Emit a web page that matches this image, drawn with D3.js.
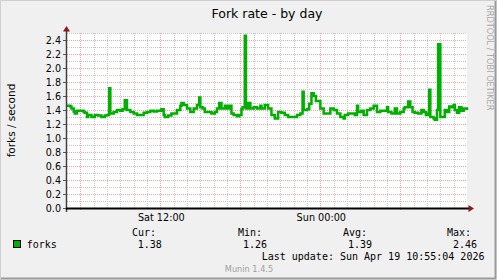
<!DOCTYPE html>
<html><head><meta charset="utf-8">
<script src="https://cdn.jsdelivr.net/npm/d3@7"></script>
<style>body{margin:0;background:#f0f0f0}svg{display:block}</style>
</head><body><svg id="c" width="497" height="280"></svg>
<script>
// ---- data ----
const sampleMinutes = [0,15,20,30,35,45,60,75,80,90,95,110,125,140,155,170,180,190,195,210,225,240,250,260,270,285,300,315,330,345,360,375,390,405,420,425,435,440,455,470,485,495,510,515,525,540,555,570,585,595,600,610,620,635,650,665,675,685,695,710,720,730,740,750,765,775,785,790,800,805,815,825,840,855,870,875,890,905,920,935,950,965,980,995,1010,1025,1035,1050,1060,1065,1080,1090,1100,1110,1120,1130,1140,1155,1170,1185,1200,1215,1230,1245,1250,1265,1280,1295,1305,1310,1325,1335,1350,1365,1380,1395,1410,1425,1440,1445,1460,1475,1485,1500,1515,1520,1535,1545,1555,1565,1580,1595,1605,1615,1625,1630,1635,1650,1655,1665,1670,1680,1690,1700,1710,1720,1730,1740,1745,1755,1765,1775,1785,1800];
const forkRate = [1.46,1.45,1.42,1.38,1.35,1.39,1.39,1.37,1.36,1.30,1.33,1.30,1.33,1.32,1.30,1.32,1.33,1.71,1.35,1.37,1.40,1.39,1.41,1.54,1.40,1.37,1.35,1.33,1.33,1.36,1.37,1.39,1.38,1.39,1.39,1.41,1.33,1.30,1.32,1.35,1.35,1.40,1.46,1.50,1.47,1.42,1.37,1.42,1.47,1.58,1.44,1.42,1.37,1.37,1.35,1.37,1.42,1.50,1.42,1.46,1.42,1.46,1.35,1.33,1.31,1.33,1.41,1.44,2.46,1.42,1.50,1.42,1.44,1.42,1.46,1.42,1.47,1.42,1.33,1.28,1.37,1.36,1.33,1.30,1.30,1.30,1.33,1.35,1.66,1.40,1.41,1.49,1.64,1.60,1.53,1.53,1.42,1.35,1.35,1.42,1.40,1.35,1.30,1.28,1.33,1.35,1.35,1.33,1.46,1.37,1.39,1.33,1.40,1.42,1.46,1.37,1.39,1.39,1.44,1.37,1.35,1.42,1.35,1.37,1.42,1.44,1.52,1.44,1.37,1.36,1.35,1.40,1.37,1.33,1.35,1.69,1.30,1.28,1.26,1.40,2.34,1.30,1.30,1.40,1.37,1.45,1.44,1.47,1.40,1.36,1.44,1.39,1.42,1.40,1.40];
const yTickValues = [0,0.2,0.4,0.6,0.8,1.0,1.2,1.4,1.6,1.8,2.0,2.2,2.4];
const xTickLabels = ["Sat 12:00","Sun 00:00"];
const legendHeaders = ["Cur:","Min:","Avg:","Max:"];
const legendValues = ["1.38","1.26","1.39","2.46"];
const seriesName = "forks";
const titleText = "Fork rate - by day";
const yLabelText = "forks / second";
const lastUpdateText = "Last update: Sun Apr 19 10:55:04 2026";

// ---- layout ----
const svg = d3.select("#c");
const W = 497, H = 280;
const L = 67, R = 467, T = 33, B = 208;
const t0 = new Date(2026,3,18,5,0), t1 = new Date(2026,3,19,11,0);
const x = d3.scaleTime().domain([t0,t1]).range([L,R]);
const y = d3.scaleLinear().domain([0,2.5]).range([B,T]);
const sans = "DejaVu Sans", mono = "DejaVu Sans Mono";

// frame
svg.append("rect").attr("x",0).attr("y",0).attr("width",W).attr("height",H).attr("fill","#f0f0f0");
svg.append("path").attr("d",`M0.5,${H}V0.5H${W}`).attr("stroke","#cfcfcf").attr("fill","none");
svg.append("path").attr("d",`M1,${H-1.5}H${W-1.5}V1`).attr("stroke","#9a9a9a").attr("stroke-width",2).attr("fill","none");

// plot bg
svg.append("rect").attr("x",L).attr("y",T).attr("width",R-L).attr("height",B-T).attr("fill","#ffffff");

const g = svg.append("g").attr("shape-rendering","crispEdges");
// minor grid
const minorY = d3.range(1,26).map(i=>i/10).filter(v=>Math.round(v*10)%2!==0);
g.selectAll(".my").data(minorY).join("line")
  .attr("x1",L).attr("x2",R).attr("y1",d=>Math.round(y(d))+0.5).attr("y2",d=>Math.round(y(d))+0.5)
  .attr("stroke","#c8c8c8").attr("stroke-dasharray","1,1");
const hours = d3.timeHour.every(1).range(t0,t1).filter(d=>d>t0 && d.getHours()%6!==0);
g.selectAll(".mx").data(hours).join("line")
  .attr("y1",T).attr("y2",B).attr("x1",d=>Math.round(x(d))+0.5).attr("x2",d=>Math.round(x(d))+0.5)
  .attr("stroke","#c8c8c8").attr("stroke-dasharray","1,1");
// major grid
g.selectAll(".My").data(yTickValues.filter(v=>v>0)).join("line")
  .attr("x1",L).attr("x2",R).attr("y1",d=>Math.round(y(d))+0.5).attr("y2",d=>Math.round(y(d))+0.5)
  .attr("stroke","#f4a4a4").attr("stroke-dasharray","1,1");
const majors = d3.timeHour.every(6).range(t0,t1).filter(d=>d>t0);
g.selectAll(".Mx").data(majors).join("line")
  .attr("y1",T).attr("y2",B+3).attr("x1",d=>Math.round(x(d))+0.5).attr("x2",d=>Math.round(x(d))+0.5)
  .attr("stroke","#f4a4a4").attr("stroke-dasharray","1,1");
// y ticks
g.selectAll(".yt").data(yTickValues).join("line")
  .attr("x1",L-4).attr("x2",L).attr("y1",d=>Math.round(y(d))+0.5).attr("y2",d=>Math.round(y(d))+0.5)
  .attr("stroke","#555");

// y tick labels
svg.selectAll(".yl").data(yTickValues).join("text")
  .attr("x",61).attr("y",d=>y(d)+3.5).attr("text-anchor","end")
  .attr("font-family",sans).attr("font-size",9.6).attr("fill","#000")
  .text(d3.format(".1f"));

// x labels
const labelTimes = majors.filter(d=>d.getHours()%12===0);
svg.selectAll(".xl").data(labelTimes).join("text")
  .attr("x",d=>x(d)+1).attr("y",221).attr("text-anchor","middle")
  .attr("font-family",sans).attr("font-size",9.7).attr("fill","#000")
  .text((d,i)=>xTickLabels[i]);

// data line
const pts = sampleMinutes.map((m,i)=>[new Date(t0.getTime()+m*60000), forkRate[i]]);
svg.append("path").datum(pts)
  .attr("d",d3.line().x(d=>x(d[0])).y(d=>y(d[1])).curve(d3.curveStepAfter))
  .attr("fill","none").attr("stroke","#00b000").attr("stroke-width",2.5).attr("stroke-linejoin","miter");

// axes
svg.append("line").attr("x1",L-0.5).attr("x2",L-0.5).attr("y1",T-2).attr("y2",B+4).attr("stroke","#404040").attr("stroke-width",1.5);
svg.append("line").attr("x1",L-1).attr("x2",R+2).attr("y1",B+0.5).attr("y2",B+0.5).attr("stroke","#000").attr("stroke-width",2);
svg.append("path").attr("d",`M${L-0.5},26L${L+3},31.5H${L-4}Z`).attr("fill","#8b1a1a");
svg.append("path").attr("d",`M${R+7},${B+0.5}L${R+1.5},${B-3}V${B+4}Z`).attr("fill","#8b1a1a");

// title
svg.append("text").attr("x",267).attr("y",18).attr("text-anchor","middle")
  .attr("font-family",sans).attr("font-size",12.5).attr("fill","#000").text(titleText);
// y label
svg.append("text").attr("transform","translate(14.5,120.5) rotate(-90)").attr("text-anchor","middle")
  .attr("font-family",sans).attr("font-size",10.5).attr("fill","#000").text(yLabelText);
// rrdtool watermark
svg.append("text").attr("transform","translate(487,5) rotate(90)").attr("text-anchor","start")
  .attr("font-family",sans).attr("font-size",8.2).attr("fill","#a8a8a8").text("RRDTOOL / TOBI OETIKER");

// legend
const hdrX = [132,238,343,447], valX = [137.7,243,348,453];
svg.selectAll(".lh").data(legendHeaders).join("text")
  .attr("x",(d,i)=>hdrX[i]).attr("y",236).attr("font-family",mono).attr("font-size",10).attr("fill","#000").text(d=>d);
svg.selectAll(".lv").data(legendValues).join("text")
  .attr("x",(d,i)=>valX[i]).attr("y",248).attr("font-family",mono).attr("font-size",10).attr("fill","#000").text(d=>d);
svg.append("rect").attr("x",13.5).attr("y",240.5).attr("width",7).attr("height",7)
  .attr("fill","#00b000").attr("stroke","#000").attr("stroke-width",1).attr("shape-rendering","crispEdges");
svg.append("text").attr("x",26.7).attr("y",248).attr("font-family",mono).attr("font-size",10).attr("fill","#000").text(seriesName);
svg.append("text").attr("x",261.7).attr("y",259.5).attr("font-family",mono).attr("font-size",10).attr("fill","#000").text(lastUpdateText);
svg.append("text").attr("x",249).attr("y",271.5).attr("text-anchor","middle")
  .attr("font-family",sans).attr("font-size",8.2).attr("fill","#a0a0a0").text("Munin 1.4.5");
</script></body></html>
